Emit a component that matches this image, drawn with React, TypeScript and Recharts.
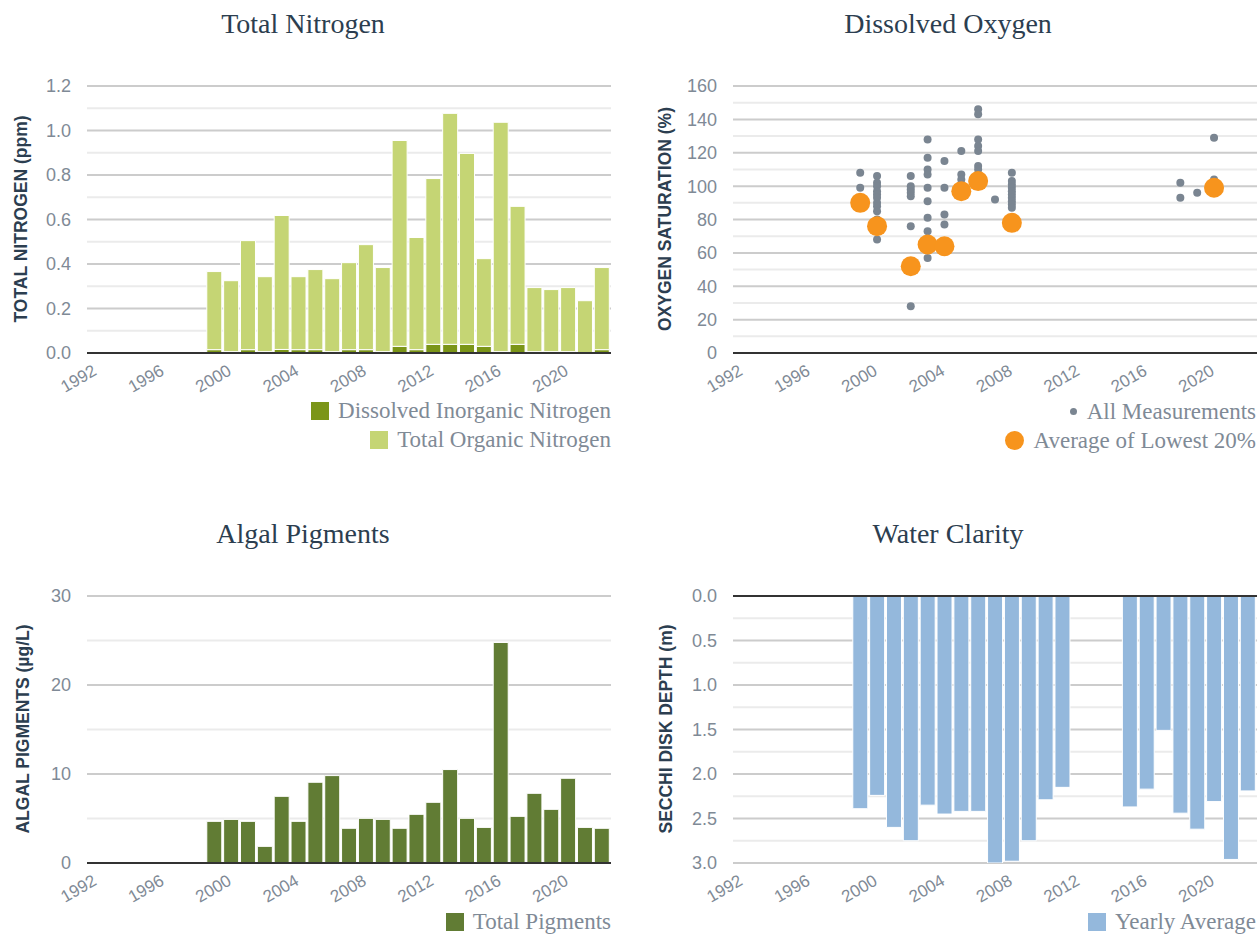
// Four-panel lake water-quality dashboard: nitrogen, oxygen, algal pigments, clarity.
import React from 'react';
import { Bar, BarChart, CartesianGrid, ReferenceLine, Scatter, ScatterChart, XAxis, YAxis } from 'recharts';

const SANS = '"Liberation Sans", Arial, sans-serif';
const SERIF = '"Liberation Serif", "Times New Roman", serif';
const INK = '#2c3e50';
const MUTED = '#7f8a96';
const GRID_MAJOR = '#cccccc';
const GRID_MINOR = '#ebebeb';
const BASE = '#333333';

const C_DIN = '#7b9518';
const C_TON = '#c5d574';
const C_PIG = '#617c34';
const C_SECCHI = '#94b8dc';
const C_DOT = '#7a8591';
const C_LOW = '#f7941d';

// shared time axis
const YEAR_TICKS = [1992, 1996, 2000, 2004, 2008, 2012, 2016, 2020];
const YEAR_DOMAIN = [1991.45, 2022.55];

// nitrogen + pigments: yearly values 1999..2022
const sampleYears = [1999, 2000, 2001, 2002, 2003, 2004, 2005, 2006, 2007, 2008, 2009, 2010, 2011, 2012, 2013, 2014, 2015, 2016, 2017, 2018, 2019, 2020, 2021, 2022];
const dinValues = [0.015, 0.006, 0.015, 0.006, 0.016, 0.015, 0.015, 0.006, 0.015, 0.015, 0.006, 0.03, 0.015, 0.039, 0.039, 0.039, 0.03, 0.006, 0.039, 0.006, 0.006, 0.006, 0.002, 0.015];
const tonValues = [0.351, 0.319, 0.49, 0.337, 0.602, 0.328, 0.36, 0.328, 0.391, 0.472, 0.378, 0.925, 0.504, 0.745, 1.038, 0.858, 0.394, 1.031, 0.62, 0.288, 0.279, 0.288, 0.233, 0.369];
const pigmentValues = [4.68, 4.9, 4.68, 1.87, 7.49, 4.68, 9.07, 9.82, 3.9, 5.02, 4.9, 3.9, 5.47, 6.82, 10.5, 5.02, 4.0, 24.78, 5.24, 7.83, 6.03, 9.52, 4.0, 3.9];

// secchi depth (no data 2012-2014)
const secchiYears = [1999, 2000, 2001, 2002, 2003, 2004, 2005, 2006, 2007, 2008, 2009, 2010, 2011, 2015, 2016, 2017, 2018, 2019, 2020, 2021, 2022];
const secchiValues = [2.39, 2.24, 2.6, 2.75, 2.35, 2.45, 2.42, 2.42, 3.0, 2.98, 2.75, 2.29, 2.15, 2.37, 2.17, 1.51, 2.44, 2.62, 2.31, 2.96, 2.19];

// dissolved oxygen saturation
const doYears = [1999, 2000, 2002, 2003, 2004, 2005, 2006, 2007, 2008, 2018, 2019, 2020];
const doMeasurements = [
  [108, 99],
  [106, 102, 100, 97, 95, 93, 90, 88, 85, 80, 68],
  [106, 100, 98, 96, 94, 76, 28],
  [128, 117, 110, 107, 99, 91, 81, 73, 57],
  [115, 99, 83, 77],
  [121, 107, 104],
  [146, 143, 128, 124, 121, 112, 110, 105],
  [92],
  [108, 103, 101, 99, 97, 95, 93, 91, 89, 87],
  [102, 93],
  [96],
  [129, 104],
];
const lowYears = [1999, 2000, 2002, 2003, 2004, 2005, 2006, 2008, 2020];
const lowValues = [90, 76, 52, 65, 64, 97, 103, 78, 99];

// y ticks (major = solid grid, minor = light grid)
const tnTicks = [0, 0.2, 0.4, 0.6, 0.8, 1.0, 1.2];
const tnMinor = [0.1, 0.3, 0.5, 0.7, 0.9, 1.1];
const doTicks = [0, 20, 40, 60, 80, 100, 120, 140, 160];
const doMinor = [10, 30, 50, 70, 90, 110, 130, 150];
const pigTicks = [0, 10, 20, 30];
const pigMinor = [5, 15, 25];
const secchiTicks = [0, 0.5, 1.0, 1.5, 2.0, 2.5, 3.0];
const secchiMinor = [0.25, 0.75, 1.25, 1.75, 2.25, 2.75];

const nitrogenData = sampleYears.map((year, i) => ({ year, din: dinValues[i], ton: tonValues[i] }));
const pigmentData = sampleYears.map((year, i) => ({ year, pigments: pigmentValues[i] }));
const secchiData = secchiYears.map((year, i) => ({ year, depth: secchiValues[i] }));
const doAllData = doYears.flatMap((year, i) => doMeasurements[i].map((value) => ({ year, value })));
const doLowData = lowYears.map((year, i) => ({ year, value: lowValues[i] }));

// rotated year label, rotated about the end of its baseline
const YearTick = (props: any) => {
  const { x, y, payload } = props;
  const bx = x + 1.5;
  const by = y + 21;
  return (
    <text x={bx} y={by} textAnchor="end" transform={`rotate(-30, ${bx}, ${by})`} fontSize={17} fontFamily={SANS} fill={MUTED}>
      {payload.value}
    </text>
  );
};

const yearAxis = () => (
  <XAxis
    type="number"
    dataKey="year"
    domain={YEAR_DOMAIN}
    ticks={YEAR_TICKS}
    allowDataOverflow
    interval={0}
    axisLine={false}
    tickLine={false}
    tickSize={0}
    tickMargin={0}
    height={60}
    tick={<YearTick />}
  />
);

const valueAxis = (domain: number[], ticks: number[], fmt?: (v: number) => string, reversed = false, dataKey?: string) => (
  <YAxis
    type="number"
    dataKey={dataKey}
    domain={domain}
    ticks={ticks}
    allowDataOverflow
    interval={0}
    reversed={reversed}
    width={60}
    axisLine={false}
    tickLine={false}
    tickSize={0}
    tickMargin={16}
    tickFormatter={fmt}
    tick={{ fontSize: 18, fill: MUTED, fontFamily: SANS }}
  />
);

// hidden axis carrying the minor ticks, plus both grids (drawn under the series)
const grids = (domain: number[], minor: number[], reversed = false) => [
  <YAxis key="minorAxis" yAxisId="minor" hide type="number" domain={domain} ticks={minor} allowDataOverflow interval={0} reversed={reversed} />,
  <CartesianGrid key="minorGrid" yAxisId="minor" vertical={false} stroke={GRID_MINOR} strokeWidth={2} />,
  <CartesianGrid key="majorGrid" vertical={false} stroke={GRID_MAJOR} strokeWidth={2} />,
];

function Title({ text, cx, top }: { text: string; cx: number; top: number }) {
  return (
    <div style={{ position: 'absolute', left: cx - 200, top, width: 400, textAlign: 'center', fontFamily: SERIF, fontSize: 28, lineHeight: '28px', color: INK }}>
      {text}
    </div>
  );
}

function AxisTitle({ text, cx, cy }: { text: string; cx: number; cy: number }) {
  return (
    <div
      style={{
        position: 'absolute', left: cx, top: cy, transform: 'translate(-50%, -50%) rotate(-90deg)',
        whiteSpace: 'nowrap', fontFamily: SANS, fontWeight: 700, fontSize: 17.5, lineHeight: '18px', color: INK,
      }}
    >
      {text}
    </div>
  );
}

type LegendItem = { label: string; color: string; marker: 'square' | 'dot' | 'circle' };

function Legend({ items, right, top }: { items: LegendItem[]; right: number; top: number }) {
  return (
    <div style={{ position: 'absolute', right: 1258 - right, top, display: 'flex', flexDirection: 'column', alignItems: 'flex-end' }}>
      {items.map((it) => {
        const size = it.marker === 'square' ? 18 : it.marker === 'circle' ? 19 : 7;
        return (
          <div key={it.label} style={{ height: 29, display: 'flex', alignItems: 'center', whiteSpace: 'nowrap' }}>
            <span
              style={{
                width: size, height: size, background: it.color, display: 'inline-block',
                borderRadius: it.marker === 'square' ? 0 : '50%', marginRight: it.marker === 'square' ? 9 : 10,
              }}
            />
            <span style={{ fontFamily: SERIF, fontSize: 23, lineHeight: '29px', color: MUTED }}>{it.label}</span>
          </div>
        );
      })}
    </div>
  );
}

const LEFT_MARGIN = { top: 86, right: 18, bottom: 55, left: 27 };
const RIGHT_MARGIN = { top: 86, right: 1, bottom: 55, left: 44 };
const LEFT_MARGIN_LOW = { top: 86, right: 18, bottom: 13, left: 27 };
const RIGHT_MARGIN_LOW = { top: 86, right: 1, bottom: 13, left: 44 };

export default function App() {
  return (
    <div style={{ position: 'absolute', left: 0, top: 0, width: 1258, height: 936, background: '#fff', overflow: 'hidden' }}>
      {/* Total Nitrogen */}
      <div style={{ position: 'absolute', left: 0, top: 0 }}>
        <BarChart width={629} height={468} data={nitrogenData} margin={LEFT_MARGIN}>
          {grids([0, 1.2], tnMinor)}
          {yearAxis()}
          {valueAxis([0, 1.2], tnTicks, (v) => v.toFixed(1))}
          <Bar dataKey="din" stackId="n" fill={C_DIN} stroke="#fff" strokeWidth={1} barSize={15} isAnimationActive={false} />
          <Bar dataKey="ton" stackId="n" fill={C_TON} stroke="#fff" strokeWidth={1} barSize={15} isAnimationActive={false} />
          <ReferenceLine y={0} stroke={BASE} strokeWidth={2} />
        </BarChart>
      </div>
      <Title text="Total Nitrogen" cx={303} top={10} />
      <AxisTitle text="TOTAL NITROGEN (ppm)" cx={21} cy={219} />
      <Legend
        right={611}
        top={396}
        items={[
          { label: 'Dissolved Inorganic Nitrogen', color: C_DIN, marker: 'square' },
          { label: 'Total Organic Nitrogen', color: C_TON, marker: 'square' },
        ]}
      />

      {/* Dissolved Oxygen */}
      <div style={{ position: 'absolute', left: 629, top: 0 }}>
        <ScatterChart width={629} height={468} margin={RIGHT_MARGIN}>
          {grids([0, 160], doMinor)}
          {yearAxis()}
          {valueAxis([0, 160], doTicks, undefined, false, 'value')}
          <Scatter
            data={doAllData}
            fill={C_DOT}
            isAnimationActive={false}
            shape={(p: any) => <circle cx={p.cx} cy={p.cy} r={4} fill={C_DOT} />}
          />
          <Scatter
            data={doLowData}
            fill={C_LOW}
            isAnimationActive={false}
            shape={(p: any) => <circle cx={p.cx} cy={p.cy} r={10} fill={C_LOW} />}
          />
          <ReferenceLine y={0} stroke={BASE} strokeWidth={2} />
        </ScatterChart>
      </div>
      <Title text="Dissolved Oxygen" cx={948} top={10} />
      <AxisTitle text="OXYGEN SATURATION (%)" cx={665} cy={219} />
      <Legend
        right={1256}
        top={397}
        items={[
          { label: 'All Measurements', color: C_DOT, marker: 'dot' },
          { label: 'Average of Lowest 20%', color: C_LOW, marker: 'circle' },
        ]}
      />

      {/* Algal Pigments */}
      <div style={{ position: 'absolute', left: 0, top: 510 }}>
        <BarChart width={629} height={426} data={pigmentData} margin={LEFT_MARGIN_LOW}>
          {grids([0, 30], pigMinor)}
          {yearAxis()}
          {valueAxis([0, 30], pigTicks)}
          <Bar dataKey="pigments" fill={C_PIG} stroke="#fff" strokeWidth={1} barSize={15} isAnimationActive={false} />
          <ReferenceLine y={0} stroke={BASE} strokeWidth={2} />
        </BarChart>
      </div>
      <Title text="Algal Pigments" cx={303} top={520} />
      <AxisTitle text="ALGAL PIGMENTS (µg/L)" cx={23} cy={729} />
      <Legend right={611} top={907} items={[{ label: 'Total Pigments', color: C_PIG, marker: 'square' }]} />

      {/* Water Clarity */}
      <div style={{ position: 'absolute', left: 629, top: 510 }}>
        <BarChart width={629} height={426} data={secchiData} margin={RIGHT_MARGIN_LOW}>
          {grids([0, 3], secchiMinor, true)}
          {yearAxis()}
          {valueAxis([0, 3], secchiTicks, (v) => v.toFixed(1), true)}
          <Bar dataKey="depth" fill={C_SECCHI} stroke="#fff" strokeWidth={1} barSize={15} isAnimationActive={false} />
          <ReferenceLine y={0} stroke={BASE} strokeWidth={2} />
        </BarChart>
      </div>
      <Title text="Water Clarity" cx={948} top={520} />
      <AxisTitle text="SECCHI DISK DEPTH (m)" cx={666} cy={729} />
      <Legend right={1256} top={907} items={[{ label: 'Yearly Average', color: C_SECCHI, marker: 'square' }]} />
    </div>
  );
}
